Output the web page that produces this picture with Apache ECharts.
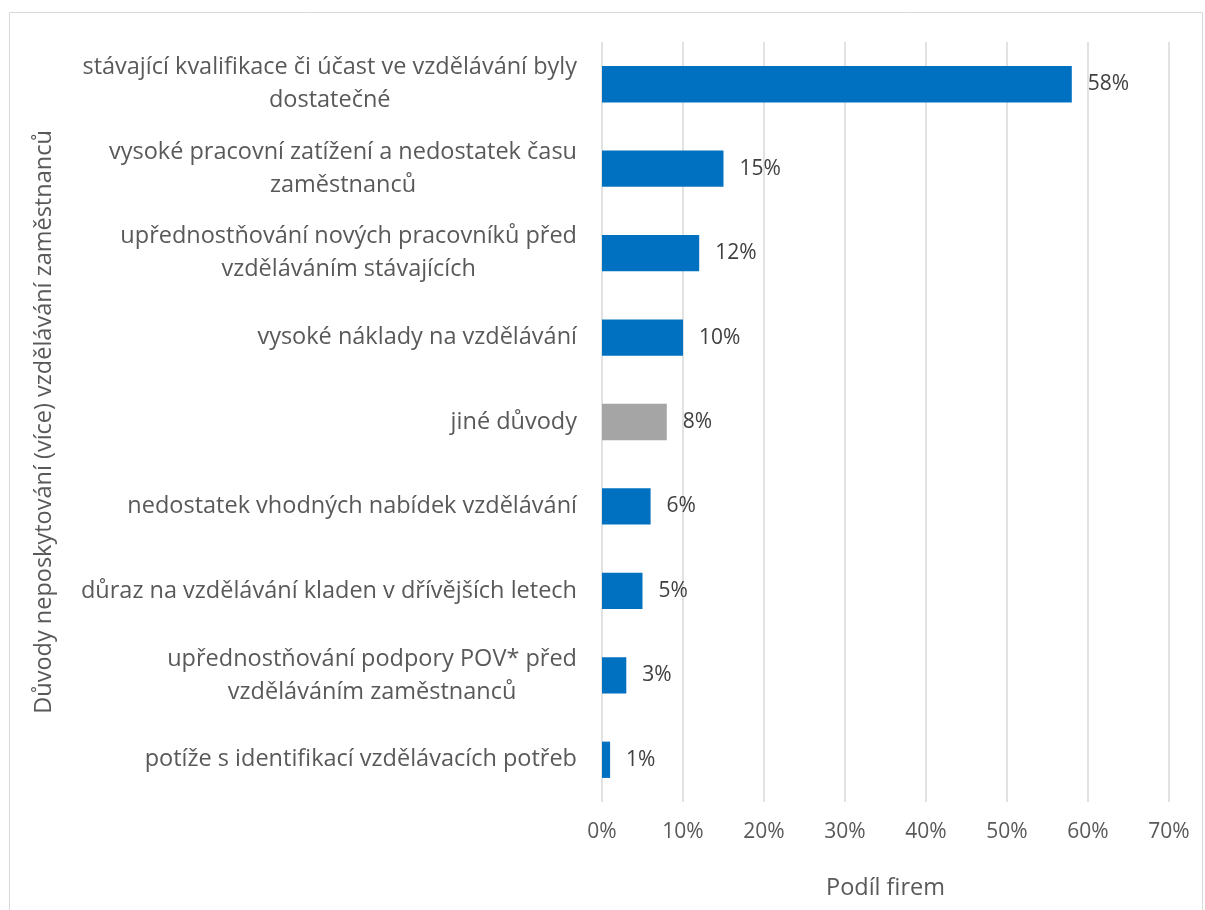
<!DOCTYPE html>
<html>
<head>
<meta charset="utf-8">
<script src="https://cdn.jsdelivr.net/npm/echarts@6/dist/echarts.min.js"></script>
<style>
  html, body { margin: 0; padding: 0; background: #fff; }
  #chart { width: 1205px; height: 910px; }
</style>
</head>
<body>
<div id="chart"></div>
<script>
// Reasons (category labels, top to bottom), with manual line breaks
const categories = [
  'stávající kvalifikace či účast ve vzdělávání byly\ndostatečné',
  'vysoké pracovní zatížení a nedostatek času\nzaměstnanců',
  'upřednostňování nových pracovníků před\nvzděláváním stávajících',
  'vysoké náklady na vzdělávání',
  'jiné důvody',
  'nedostatek vhodných nabídek vzdělávání',
  'důraz na vzdělávání kladen v dřívějších letech',
  'upřednostňování podpory POV* před\nvzděláváním zaměstnanců',
  'potíže s identifikací vzdělávacích potřeb'
];
// Share of firms (%)
const shares = [58, 15, 12, 10, 8, 6, 5, 3, 1];
// Categories drawn in grey instead of blue
const greyCategories = ['jiné důvody'];
const xTicks = [0, 10, 20, 30, 40, 50, 60, 70];

const FONT = '"Open Sans", "Noto Sans", sans-serif';
const TEXT = '#595959';
const FS_TEXT = 23.5;  // words
const FS_NUM = 21;     // numbers

const chart = echarts.init(document.getElementById('chart'));
chart.setOption({
  animation: false,
  backgroundColor: '#ffffff',
  textStyle: { fontFamily: FONT },
  graphic: [{
    type: 'rect',
    shape: { x: 9.5, y: 12.5, width: 1193, height: 930 },
    style: { fill: null, stroke: '#d9d9d9', lineWidth: 1 },
    silent: true
  }],
  grid: { left: 602, right: 36, top: 42, bottom: 108 },
  xAxis: {
    type: 'value',
    min: xTicks[0],
    max: xTicks[xTicks.length - 1],
    interval: 10,
    axisLine: { show: false },
    axisTick: { show: false },
    splitLine: { lineStyle: { color: '#d9d9d9', width: 1.5 } },
    axisLabel: { formatter: '{value}%', color: TEXT, fontSize: FS_NUM, margin: 20, fontFamily: FONT },
    name: 'Podíl firem',
    nameLocation: 'middle',
    nameGap: 74,
    nameTextStyle: { color: TEXT, fontSize: FS_TEXT, fontFamily: FONT }
  },
  yAxis: {
    type: 'category',
    data: categories,
    inverse: true,
    axisLine: { show: false },
    axisTick: { show: false },
    axisLabel: {
      color: TEXT,
      fontSize: FS_TEXT,
      margin: 25,
      lineHeight: 33,
      fontFamily: FONT,
      formatter: v => v.split('\n').map(s => '{c|' + s + '}').join('\n'),
      rich: { c: { align: 'center', color: TEXT, fontSize: FS_TEXT, lineHeight: 33, fontFamily: FONT } }
    },
    name: 'Důvody neposkytování (více) vzdělávání zaměstnanců',
    nameLocation: 'middle',
    nameGap: 546,
    nameRotate: 90,
    nameTextStyle: { color: TEXT, fontSize: FS_TEXT, fontFamily: FONT }
  },
  series: [{
    type: 'bar',
    data: shares.map((v, i) => ({
      value: v,
      itemStyle: { color: greyCategories.includes(categories[i]) ? '#a5a5a5' : '#0070c0' }
    })),
    barCategoryGap: '57%',
    label: {
      show: true,
      position: 'right',
      distance: 16,
      formatter: '{c}%',
      color: '#404040',
      fontSize: FS_NUM,
      fontFamily: FONT
    }
  }]
});
</script>
</body>
</html>
